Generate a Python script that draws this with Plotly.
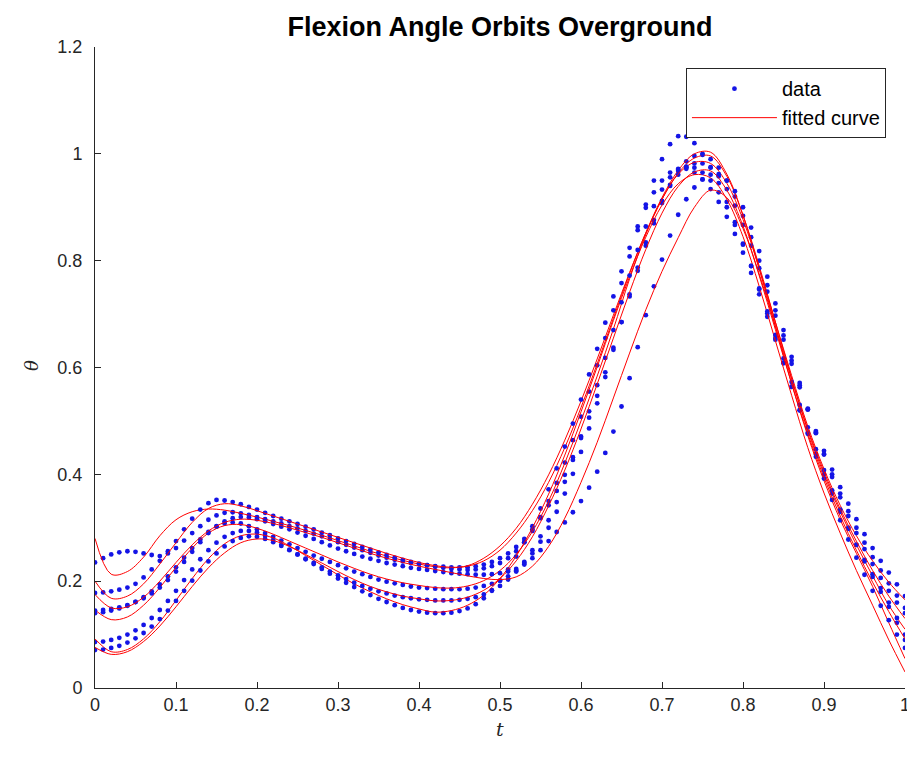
import plotly.graph_objects as go

# ---------------- data ----------------
t_data = [round(i * 0.01, 2) for i in range(101)]
t_fit = [round(i * 0.02, 2) for i in range(51)]

orbit1_data = [
    0.235, 0.243, 0.250, 0.254, 0.256, 0.255, 0.252, 0.249, 0.247, 0.252,
    0.262, 0.276, 0.290, 0.303, 0.315, 0.323, 0.328, 0.329, 0.327, 0.324,
    0.320, 0.316, 0.312, 0.308, 0.303, 0.299, 0.294, 0.289, 0.284, 0.279,
    0.273, 0.268, 0.263, 0.258, 0.253, 0.248, 0.244, 0.240, 0.237, 0.234,
    0.232, 0.230, 0.228, 0.227, 0.226, 0.226, 0.226, 0.228, 0.231, 0.236,
    0.243, 0.252, 0.264, 0.279, 0.297, 0.318, 0.342, 0.369, 0.399, 0.432,
    0.468, 0.506, 0.547, 0.591, 0.637, 0.685, 0.733, 0.781, 0.828, 0.870,
    0.908, 0.942, 0.968, 0.986, 0.996, 0.998, 0.990, 0.974, 0.950, 0.920,
    0.884, 0.844, 0.800, 0.754, 0.707, 0.660, 0.613, 0.567, 0.522, 0.479,
    0.438, 0.400, 0.364, 0.331, 0.300, 0.272, 0.245, 0.220, 0.196, 0.173, 0.150]

orbit2_data = [
    0.178, 0.179, 0.181, 0.184, 0.188, 0.195, 0.207, 0.222, 0.238, 0.256,
    0.275, 0.297, 0.317, 0.334, 0.346, 0.352, 0.351, 0.348, 0.344, 0.339,
    0.334, 0.328, 0.322, 0.317, 0.312, 0.307, 0.302, 0.297, 0.291, 0.286,
    0.280, 0.275, 0.270, 0.264, 0.259, 0.254, 0.249, 0.244, 0.240, 0.236,
    0.233, 0.230, 0.227, 0.225, 0.223, 0.222, 0.221, 0.222, 0.224, 0.228,
    0.234, 0.243, 0.256, 0.273, 0.294, 0.320, 0.350, 0.384, 0.422, 0.464,
    0.508, 0.555, 0.604, 0.655, 0.707, 0.758, 0.808, 0.857, 0.905, 0.950,
    0.990, 1.018, 1.033, 1.032, 1.020, 1.000, 0.975, 0.945, 0.910, 0.872,
    0.832, 0.790, 0.746, 0.701, 0.655, 0.609, 0.564, 0.520, 0.478, 0.438,
    0.400, 0.364, 0.330, 0.298, 0.268, 0.240, 0.213, 0.187, 0.160, 0.131, 0.100]

orbit3_data = [
    0.140, 0.142, 0.145, 0.149, 0.154, 0.161, 0.170, 0.181, 0.194, 0.209,
    0.226, 0.244, 0.262, 0.278, 0.292, 0.302, 0.308, 0.310, 0.308, 0.303,
    0.297, 0.290, 0.283, 0.276, 0.269, 0.262, 0.255, 0.248, 0.242, 0.236,
    0.230, 0.224, 0.218, 0.213, 0.208, 0.203, 0.199, 0.196, 0.193, 0.190,
    0.188, 0.187, 0.186, 0.185, 0.185, 0.185, 0.186, 0.188, 0.191, 0.195,
    0.201, 0.209, 0.220, 0.234, 0.252, 0.274, 0.300, 0.330, 0.364, 0.401,
    0.442, 0.486, 0.533, 0.582, 0.633, 0.685, 0.737, 0.787, 0.834, 0.876,
    0.912, 0.940, 0.961, 0.975, 0.982, 0.982, 0.974, 0.958, 0.934, 0.903,
    0.867, 0.828, 0.786, 0.742, 0.697, 0.652, 0.607, 0.563, 0.521, 0.481,
    0.444, 0.409, 0.376, 0.345, 0.316, 0.288, 0.262, 0.238, 0.216, 0.194, 0.172]

orbit4_data = [
    0.086, 0.087, 0.090, 0.094, 0.100, 0.108, 0.118, 0.131, 0.146, 0.163,
    0.182, 0.202, 0.222, 0.241, 0.258, 0.272, 0.283, 0.290, 0.294, 0.294,
    0.291, 0.285, 0.277, 0.268, 0.259, 0.250, 0.241, 0.232, 0.223, 0.214,
    0.205, 0.197, 0.189, 0.181, 0.174, 0.167, 0.161, 0.155, 0.150, 0.146,
    0.143, 0.141, 0.140, 0.140, 0.141, 0.144, 0.149, 0.157, 0.168, 0.183,
    0.201, 0.222, 0.246, 0.273, 0.303, 0.336, 0.372, 0.411, 0.452, 0.495,
    0.540, 0.587, 0.635, 0.684, 0.733, 0.780, 0.824, 0.864, 0.899, 0.928,
    0.950, 0.965, 0.972, 0.972, 0.965, 0.952, 0.934, 0.910, 0.882, 0.850,
    0.815, 0.777, 0.737, 0.695, 0.652, 0.608, 0.564, 0.520, 0.476, 0.433,
    0.392, 0.352, 0.314, 0.278, 0.244, 0.212, 0.182, 0.154, 0.127, 0.100, 0.075]

orbit5_data = [
    0.071, 0.072, 0.075, 0.079, 0.085, 0.093, 0.103, 0.115, 0.129, 0.145,
    0.163, 0.182, 0.201, 0.220, 0.237, 0.252, 0.265, 0.275, 0.281, 0.284,
    0.283, 0.279, 0.273, 0.266, 0.258, 0.250, 0.242, 0.234, 0.226, 0.218,
    0.211, 0.204, 0.197, 0.191, 0.186, 0.181, 0.177, 0.173, 0.170, 0.168,
    0.166, 0.165, 0.164, 0.164, 0.164, 0.165, 0.167, 0.170, 0.175, 0.182,
    0.191, 0.203, 0.218, 0.236, 0.258, 0.284, 0.314, 0.348, 0.386, 0.427,
    0.471, 0.518, 0.567, 0.618, 0.670, 0.722, 0.772, 0.820, 0.864, 0.902,
    0.933, 0.956, 0.970, 0.976, 0.974, 0.965, 0.950, 0.928, 0.900, 0.867,
    0.830, 0.790, 0.748, 0.705, 0.661, 0.617, 0.573, 0.530, 0.488, 0.447,
    0.408, 0.370, 0.334, 0.300, 0.268, 0.237, 0.208, 0.180, 0.152, 0.122, 0.090]

orbit6_data = [
    0.145, 0.146, 0.148, 0.151, 0.155, 0.161, 0.168, 0.177, 0.188, 0.202,
    0.218, 0.236, 0.255, 0.273, 0.290, 0.303, 0.312, 0.318, 0.320, 0.319,
    0.316, 0.312, 0.307, 0.302, 0.297, 0.291, 0.285, 0.279, 0.273, 0.267,
    0.261, 0.256, 0.251, 0.246, 0.242, 0.238, 0.234, 0.231, 0.228, 0.225,
    0.223, 0.221, 0.219, 0.217, 0.215, 0.214, 0.213, 0.212, 0.212, 0.213,
    0.215, 0.218, 0.223, 0.231, 0.243, 0.258, 0.275, 0.292, 0.310, 0.329,
    0.350, 0.375, 0.405, 0.440, 0.480, 0.527, 0.580, 0.638, 0.698, 0.752,
    0.802, 0.847, 0.886, 0.915, 0.937, 0.952, 0.961, 0.962, 0.950, 0.930,
    0.900, 0.862, 0.818, 0.770, 0.720, 0.670, 0.620, 0.571, 0.523, 0.477,
    0.437, 0.395, 0.357, 0.322, 0.290, 0.260, 0.232, 0.206, 0.182, 0.160, 0.140]

orbit1_fit = [
    0.280, 0.213, 0.218, 0.245, 0.285, 0.315, 0.330, 0.335, 0.333, 0.327,
    0.320, 0.312, 0.304, 0.295, 0.286, 0.276, 0.266, 0.256, 0.247, 0.239,
    0.232, 0.227, 0.225, 0.229, 0.243, 0.266, 0.299, 0.344, 0.399, 0.464,
    0.537, 0.616, 0.698, 0.778, 0.852, 0.915, 0.964, 0.992, 0.996, 0.958,
    0.885, 0.790, 0.685, 0.580, 0.482, 0.400, 0.330, 0.268, 0.210, 0.155, 0.110]

orbit2_fit = [
    0.200, 0.168, 0.172, 0.195, 0.232, 0.272, 0.310, 0.336, 0.345, 0.341,
    0.332, 0.322, 0.312, 0.302, 0.292, 0.282, 0.272, 0.262, 0.252, 0.243,
    0.235, 0.229, 0.226, 0.228, 0.238, 0.258, 0.290, 0.332, 0.385, 0.450,
    0.525, 0.607, 0.692, 0.776, 0.852, 0.918, 0.969, 1.000, 1.003, 0.962,
    0.885, 0.785, 0.677, 0.570, 0.472, 0.388, 0.315, 0.252, 0.190, 0.122, 0.055]

orbit3_fit = [
    0.146, 0.128, 0.133, 0.155, 0.188, 0.226, 0.262, 0.290, 0.304, 0.306,
    0.299, 0.288, 0.275, 0.262, 0.249, 0.236, 0.224, 0.213, 0.204, 0.197,
    0.192, 0.188, 0.187, 0.191, 0.201, 0.220, 0.250, 0.293, 0.350, 0.421,
    0.500, 0.584, 0.672, 0.766, 0.849, 0.915, 0.962, 0.984, 0.982, 0.945,
    0.877, 0.785, 0.685, 0.585, 0.490, 0.410, 0.342, 0.285, 0.238, 0.198, 0.165]

orbit4_fit = [
    0.092, 0.068, 0.072, 0.092, 0.124, 0.164, 0.205, 0.242, 0.270, 0.285,
    0.288, 0.281, 0.266, 0.248, 0.230, 0.212, 0.195, 0.180, 0.167, 0.156,
    0.148, 0.142, 0.145, 0.155, 0.174, 0.205, 0.247, 0.300, 0.363, 0.436,
    0.517, 0.601, 0.688, 0.770, 0.844, 0.904, 0.944, 0.961, 0.955, 0.915,
    0.845, 0.752, 0.650, 0.548, 0.450, 0.365, 0.290, 0.220, 0.155, 0.090, 0.030]

orbit5_fit = [
    0.076, 0.063, 0.068, 0.087, 0.116, 0.152, 0.190, 0.225, 0.253, 0.272,
    0.279, 0.276, 0.265, 0.250, 0.234, 0.218, 0.203, 0.190, 0.180, 0.172,
    0.167, 0.163, 0.164, 0.170, 0.183, 0.205, 0.238, 0.283, 0.341, 0.408,
    0.485, 0.569, 0.655, 0.741, 0.821, 0.889, 0.939, 0.966, 0.968, 0.932,
    0.865, 0.772, 0.671, 0.570, 0.476, 0.394, 0.322, 0.258, 0.198, 0.143, 0.092]

orbit6_fit = [
    0.175, 0.150, 0.152, 0.170, 0.200, 0.235, 0.268, 0.294, 0.310, 0.316,
    0.314, 0.308, 0.300, 0.291, 0.282, 0.272, 0.262, 0.252, 0.243, 0.235,
    0.228, 0.222, 0.216, 0.210, 0.205, 0.203, 0.208, 0.228, 0.265, 0.318,
    0.385, 0.460, 0.543, 0.627, 0.708, 0.780, 0.843, 0.900, 0.932, 0.918,
    0.860, 0.775, 0.677, 0.578, 0.485, 0.405, 0.335, 0.275, 0.220, 0.172, 0.130]

orbits_data = [orbit1_data, orbit2_data, orbit3_data, orbit4_data, orbit5_data, orbit6_data]
orbits_fit = [orbit1_fit, orbit2_fit, orbit3_fit, orbit4_fit, orbit5_fit, orbit6_fit]

x_ticks = [0, 0.1, 0.2, 0.3, 0.4, 0.5, 0.6, 0.7, 0.8, 0.9, 1.0]
x_tick_labels = ["0", "0.1", "0.2", "0.3", "0.4", "0.5", "0.6", "0.7", "0.8", "0.9", "1"]
y_ticks = [0, 0.2, 0.4, 0.6, 0.8, 1.0, 1.2]
y_tick_labels = ["0", "0.2", "0.4", "0.6", "0.8", "1", "1.2"]

# ---------------- figure ----------------
fig = go.Figure()
for i, (yd, yf) in enumerate(zip(orbits_data, orbits_fit)):
    fig.add_trace(go.Scatter(
        x=t_data, y=yd, mode="markers", name="data",
        marker=dict(color="#1414e6", size=4.8, line=dict(width=0)),
        showlegend=(i == 0), legendrank=1))
    fig.add_trace(go.Scatter(
        x=t_fit, y=yf, mode="lines", name="fitted curve",
        line=dict(color="#ff0000", width=1, shape="spline", smoothing=1.0),
        showlegend=(i == 0), legendrank=2))

tick_font = dict(family="Liberation Sans, Arial, sans-serif", size=18, color="#262626")
axis_common = dict(
    showgrid=False, zeroline=False, showline=True, linecolor="#262626",
    linewidth=1, ticks="inside", ticklen=6, tickcolor="#262626",
    tickfont=tick_font, mirror=False, automargin=False)

# page body has an 8px default margin, so the figure is offset by 8px
fig.update_layout(
    width=907, height=754,
    margin=dict(l=87, r=10, t=39, b=74),
    paper_bgcolor="white", plot_bgcolor="white",
    title=dict(text="<b>Flexion Angle Orbits Overground</b>",
               x=0.5425, xanchor="center", y=0.975, yanchor="middle",
               font=dict(family="Liberation Sans, Arial, sans-serif", size=27, color="#000000")),
    xaxis=dict(range=[0, 1], tickvals=x_ticks, ticktext=x_tick_labels, **axis_common),
    yaxis=dict(range=[0, 1.2], tickvals=y_ticks, ticktext=y_tick_labels,
               ticklabelstandoff=8, **axis_common),
    legend=dict(x=0.9765, y=0.967, xanchor="right", yanchor="top",
                bgcolor="white", bordercolor="#262626", borderwidth=1,
                font=dict(family="Liberation Sans, Arial, sans-serif", size=20, color="#000000"),
                itemwidth=85, tracegroupgap=0),
    showlegend=True,
    annotations=[
        dict(text="<i>t</i>", xref="paper", yref="paper", x=0.5, y=-0.064,
             xanchor="center", yanchor="middle", showarrow=False, borderpad=0,
             font=dict(family="DejaVu Serif, serif", size=19, color="#262626")),
        dict(text="<i>θ</i>", xref="paper", yref="paper", x=-0.0778, y=0.504,
             xanchor="center", yanchor="middle", showarrow=False, textangle=-90,
             font=dict(family="DejaVu Serif, serif", size=18, color="#262626")),
    ],
)

fig.write_html("out.html")
